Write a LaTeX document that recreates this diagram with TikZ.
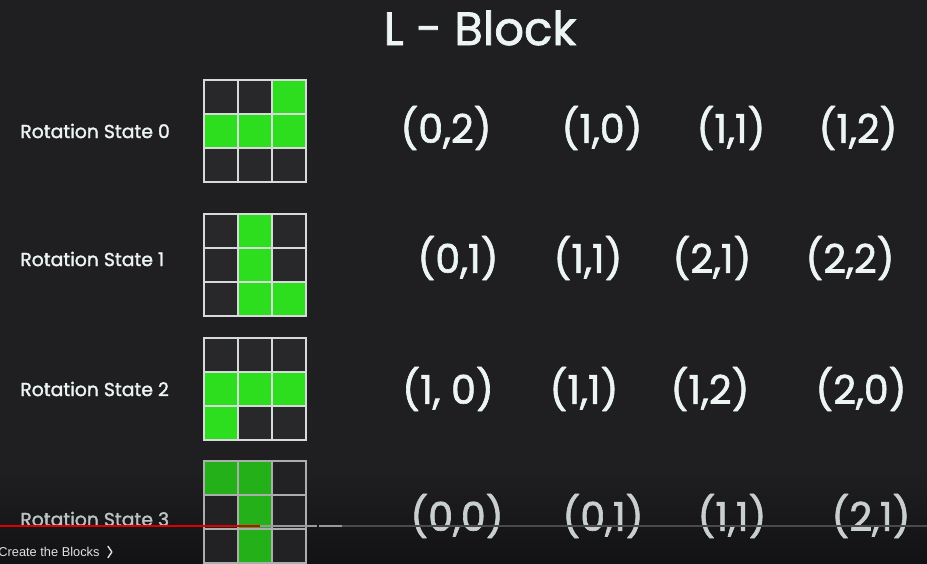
\documentclass[tikz,border=0pt]{standalone}
\usepackage{fontspec}
\setmainfont{Poppins}
\newfontfamily\heavyfont{Poppins}[FakeBold=1.6]
\newfontfamily\ytfont{Liberation Sans}
\usepackage{xcolor}
\usetikzlibrary{positioning}

\definecolor{bgdark}{RGB}{31,31,34}
\definecolor{bgfoot}{RGB}{18,18,20}
\definecolor{cellbg}{RGB}{40,40,42}
\definecolor{cellfoot}{RGB}{34,34,36}
\definecolor{gridline}{RGB}{215,218,218}
\definecolor{lgreen}{RGB}{44,222,30}
\definecolor{dgreen}{RGB}{36,176,24}
\definecolor{txt}{RGB}{236,244,244}
\definecolor{ytred}{RGB}{220,0,0}
\definecolor{ytgrey}{RGB}{74,74,78}

\begin{document}
\begin{tikzpicture}[
  x=0.02cm, y=-0.02cm,
  cell/.style={rectangle, draw=gridline, line width=1.1pt, fill=cellbg,
               minimum size=0.68cm, inner sep=0pt, outer sep=0pt},
  oncell/.style={cell, fill=lgreen},
  state/.style={anchor=west, inner sep=0pt, font=\heavyfont\fontsize{10.7}{12}\selectfont, text=txt},
  cpair/.style={font=\heavyfont\fontsize{22.5}{26}\selectfont, text=txt},
  title/.style={font=\heavyfont\fontsize{26.5}{30}\selectfont, text=txt}
]

% Background
\useasboundingbox (0,0) rectangle (927,564);
\fill[bgdark] (0,0) rectangle (927,564);
\shade[top color=bgdark, bottom color=bgfoot] (0,470) rectangle (927,564);

% Title
\node[title] (title) at (480,28) {L - Block};

% Rotation state 0
\node[state] (s0) at (20,131) {Rotation State 0};
\foreach \r in {0,1,2} \foreach \c in {0,1,2}
  \node[cell] (a\r\c) at ({221+34*\c},{97+34*\r}) {};
\foreach \r/\c in {0/2,1/0,1/1,1/2}
  \node[oncell] (a\r\c g) at (a\r\c) {};
\node[cpair] (p00) at (446,128) {(0,2)};
\node[cpair] (p01) at (602,128) {(1,0)};
\node[cpair] (p02) at (731,128) {(1,1)};
\node[cpair] (p03) at (858,128) {(1,2)};

% Rotation state 1
\node[state] (s1) at (20,259) {Rotation State 1};
\foreach \r in {0,1,2} \foreach \c in {0,1,2}
  \node[cell] (b\r\c) at ({221+34*\c},{231+34*\r}) {};
\foreach \r/\c in {0/1,1/1,2/1,2/2}
  \node[oncell] (b\r\c g) at (b\r\c) {};
\node[cpair] (p10) at (458,258) {(0,1)};
\node[cpair] (p11) at (588,258) {(1,1)};
\node[cpair] (p12) at (712,258) {(2,1)};
\node[cpair] (p13) at (850,258) {(2,2)};

% Rotation state 2
\node[state] (s2) at (20,389) {Rotation State 2};
\foreach \r in {0,1,2} \foreach \c in {0,1,2}
  \node[cell] (c\r\c) at ({221+34*\c},{355+34*\r}) {};
\foreach \r/\c in {1/0,1/1,1/2,2/0}
  \node[oncell] (c\r\c g) at (c\r\c) {};
\node[cpair] (p20) at (448,389) {(1, 0)};
\node[cpair] (p21) at (584,389) {(1,1)};
\node[cpair] (p22) at (710,389) {(1,2)};
\node[cpair] (p23) at (861,389) {(2,0)};

% Rotation state 3 (under the player bar)
\node[state, text=txt!80!black] (s3) at (20,519) {Rotation State 3};
\foreach \r in {0,1,2} \foreach \c in {0,1,2}
  \node[cell, fill=cellfoot, draw=gridline!80!black] (d\r\c) at ({221+34*\c},{478+34*\r}) {};
\foreach \r/\c in {0/0,0/1,1/1,2/1}
  \node[oncell, fill=dgreen, draw=gridline!80!black] (d\r\c g) at (d\r\c) {};
\node[cpair, text=txt!85!black] (p30) at (457,516) {(0,0)};
\node[cpair, text=txt!85!black] (p31) at (603,516) {(0,1)};
\node[cpair, text=txt!85!black] (p32) at (732,516) {(1,1)};
\node[cpair, text=txt!85!black] (p33) at (871,516) {(2,1)};

% Player progress bar
\draw[ytgrey, line width=1.6pt] (342,526) -- (927,526);
\draw[gray!80, line width=1.6pt] (319,526) -- (342,526);
\draw[gray!80!white, line width=1.6pt] (260,526) -- (317,526);
\draw[ytred, line width=1.6pt] (0,526) -- (260,526);

% Chapter title
\node[anchor=west, font=\ytfont\fontsize{7.3}{9}\selectfont, text=white!88!black, inner sep=0pt] (chap) at (-2,552) {Create the Blocks};
\draw[white!88!black, line width=0.8pt, line cap=round, line join=round]
  ([xshift=4.6pt,yshift=3.2pt]chap.east) -- ++(2.2pt,-3.2pt) -- ++(-2.2pt,-3.2pt);

\end{tikzpicture}
\end{document}
